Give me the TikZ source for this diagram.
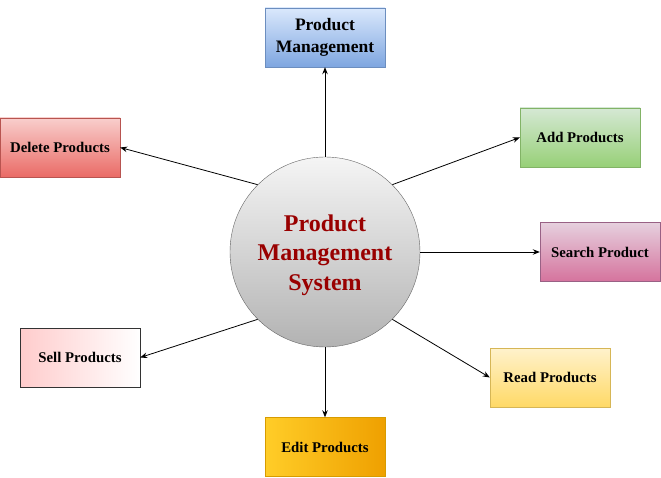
\documentclass[tikz,border=0pt]{standalone}
\usepackage{fontspec}
\setmainfont{Liberation Serif}
\usepackage{xcolor}
\usetikzlibrary{arrows.meta}
\definecolor{pmsred}{RGB}{153,0,0}
\definecolor{bluetop}{HTML}{DAE8FC}
\definecolor{bluebot}{HTML}{7EA6E0}
\definecolor{blueline}{HTML}{6C8EBF}
\definecolor{redtop}{HTML}{F8CECC}
\definecolor{redbot}{HTML}{EA6B66}
\definecolor{redline}{HTML}{B85450}
\definecolor{greentop}{HTML}{D5E8D4}
\definecolor{greenbot}{HTML}{97D077}
\definecolor{greenline}{HTML}{82B366}
\definecolor{pinktop}{HTML}{E6D0DE}
\definecolor{pinkbot}{HTML}{D5739D}
\definecolor{pinkline}{HTML}{996185}
\definecolor{yellowtop}{HTML}{FFF2CC}
\definecolor{yellowbot}{HTML}{FFD966}
\definecolor{yellowline}{HTML}{D6B656}
\definecolor{orangeleft}{HTML}{FFCD28}
\definecolor{orangeright}{HTML}{EFA000}
\definecolor{orangeline}{HTML}{D79B00}
\definecolor{sellleft}{HTML}{FFCCCC}

\begin{document}
\begin{tikzpicture}[x=1pt,y=-1pt]
  \tikzset{box/.style={draw=#1,minimum width=120pt,minimum height=59pt,inner sep=2pt,font=\bfseries\fontsize{14.8}{17}\selectfont},
    link/.style={-{Stealth[length=7pt,width=5.5pt]},line width=0.8pt}}
  \useasboundingbox (0,0) rectangle (661,478);

  \node [circle,draw=black!60,minimum size=190pt,top color=black!4,bottom color=black!30] (pms) at (325,252) {}; % centre
  \node [align=center,text=pmsred,font=\bfseries\fontsize{24}{29.5}\selectfont] (pmstext) at (325,255) {Product\\Management\\System};
  \node [box=blueline,top color=bluetop,bottom color=bluebot,align=center,font=\bfseries\fontsize{17.5}{22}\selectfont] (prodmgmt) at (325,37.5) {Product\\Management}; % top
  \node [box=redline,top color=redtop,bottom color=redbot] (delprod) at (60,147.5) {Delete Products};
  \node [box=greenline,top color=greentop,bottom color=greenbot] (addprod) at (580,137.5) {Add Products};
  \node [box=pinkline,top color=pinktop,bottom color=pinkbot] (searchprod) at (600,252) {Search Product};
  \node [box=black!80,left color=sellleft,right color=white] (sellprod) at (80,357.5) {Sell Products};
  \node [box=yellowline,top color=yellowtop,bottom color=yellowbot] (readprod) at (550,377.5) {Read Products};
  \node [box=orangeline,left color=orangeleft,right color=orangeright] (editprod) at (325,447) {Edit Products};

  \draw[link] (pms.90) -- (prodmgmt.south);
  \draw[link] (pms.135) -- (delprod.east);
  \draw[link] (pms.45) -- (addprod.west);
  \draw[link] (pms.0) -- (searchprod.west);
  \draw[link] (pms.225) -- (sellprod.east);
  \draw[link] (pms.315) -- (readprod.west);
  \draw[link] (pms.270) -- (editprod.north);
\end{tikzpicture}
\end{document}
